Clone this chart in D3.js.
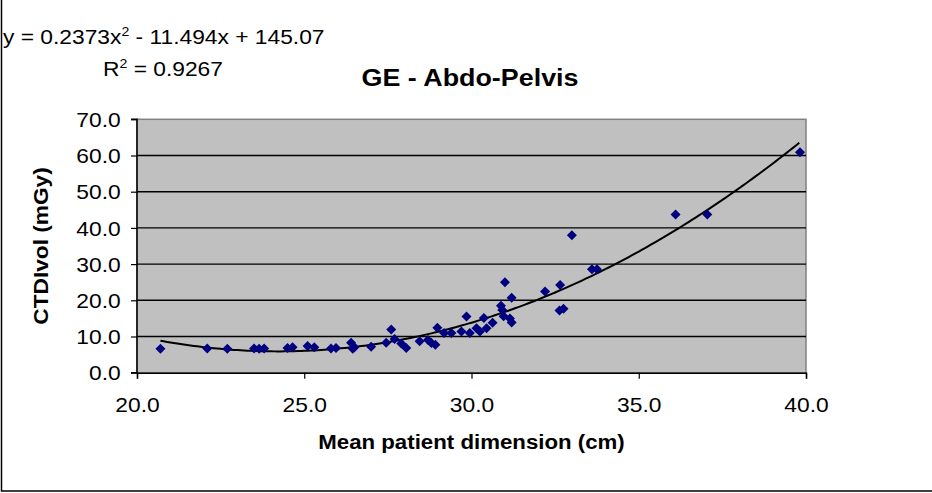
<!DOCTYPE html>
<html>
<head>
<meta charset="utf-8">
<script src="https://cdn.jsdelivr.net/npm/d3@7"></script>
<style>
  html, body { margin: 0; padding: 0; background: #fff; }
  svg { display: block; }
  text { font-family: "Liberation Sans", Arial, sans-serif; fill: #000; }
</style>
</head>
<body>
<svg id="chart" width="932" height="493"></svg>
<script>
// ---- data ----
const dimension = [20.7, 22.1, 22.7, 23.5, 23.65, 23.8, 24.5, 24.65, 25.1, 25.3,
  25.8, 25.95, 26.4, 26.45, 26.5, 27.0, 27.45, 27.6, 27.7, 27.9,
  28.05, 28.45, 28.7, 28.8, 28.92, 28.98, 29.18, 29.4, 29.7, 29.85,
  29.95, 30.15, 30.25, 30.37, 30.45, 30.63, 30.88, 30.92, 30.96, 31.0,
  31.2, 31.15, 31.2, 32.2, 32.65, 32.63, 32.75, 33.0, 33.6, 33.75,
  36.1, 37.05, 39.82];
const ctdivol = [6.6, 6.7, 6.6, 6.7, 6.6, 6.7, 6.8, 7.0, 7.4, 7.0,
  6.7, 6.8, 8.3, 6.6, 7.0, 7.2, 8.3, 11.9, 9.3, 8.1,
  6.8, 8.7, 9.0, 8.2, 7.7, 12.4, 11.0, 11.0, 11.4, 15.5,
  11.0, 12.3, 11.4, 15.1, 12.3, 13.8, 18.5, 17.3, 15.6, 25.0,
  20.7, 15.0, 13.9, 22.4, 24.2, 17.2, 17.7, 38.0, 28.6, 28.6,
  43.7, 43.7, 60.9];
const trendCoefficients = [0.2373, -11.494, 145.07]; // a, b, c of y = ax^2 + bx + c
const xTicks = [20, 25, 30, 35, 40];
const yTicks = [0, 10, 20, 30, 40, 50, 60, 70];
const titleText = "GE - Abdo-Pelvis";
const xLabelText = "Mean patient dimension (cm)";
const yLabelText = "CTDIvol (mGy)";

// ---- layout ----
const svg = d3.select("#chart");
const plot = { left: 137, right: 806, top: 119.3, bottom: 372.7 };
const x = d3.scaleLinear().domain([20, 40]).range([plot.left, plot.right]);
const y = d3.scaleLinear().domain([0, 70]).range([plot.bottom, plot.top]);

// outer chart frame
svg.append("rect").attr("x", 1.5).attr("y", -10).attr("width", 940).attr("height", 501)
  .attr("fill", "#fff").attr("stroke", "#000").attr("stroke-width", 1.5);

// plot area
svg.append("rect").attr("x", plot.left).attr("y", plot.top)
  .attr("width", plot.right - plot.left).attr("height", plot.bottom - plot.top)
  .attr("fill", "#C0C0C0").attr("stroke", "#808080").attr("stroke-width", 1.5);

// gridlines
svg.append("g").selectAll("line").data(yTicks.filter(d => d > 0 && d < 70)).join("line")
  .attr("x1", plot.left).attr("x2", plot.right)
  .attr("y1", d => y(d)).attr("y2", d => y(d))
  .attr("stroke", "#000").attr("stroke-width", 1.4);

// axes
const tickSx = 1.14;
const yAxis = d3.axisLeft(y).tickValues(yTicks).tickFormat(d3.format(".1f")).tickSize(6).tickPadding(10);
const xAxis = d3.axisBottom(x).tickValues(xTicks).tickFormat(d3.format(".1f")).tickSize(6).tickPadding(6);

const gy = svg.append("g").attr("transform", `translate(${plot.left},0)`).call(yAxis);
const gx = svg.append("g").attr("transform", `translate(0,${plot.bottom})`).call(xAxis);
[gx, gy].forEach(g => {
  g.select(".domain").attr("stroke", "#000").attr("stroke-width", 1.5);
  g.selectAll(".tick line").attr("stroke", "#000").attr("stroke-width", 1.2);
  g.selectAll(".tick text").attr("font-family", "'Liberation Sans', Arial, sans-serif")
    .attr("font-size", 20).attr("fill", "#000").attr("transform", `scale(${tickSx},1)`);
});
gx.selectAll(".tick text").attr("y", 0).attr("dy", null).attr("dominant-baseline", null)
  .attr("transform", `translate(0,39.3) scale(${tickSx},1)`);
gy.selectAll(".tick text").attr("x", -16.3 / tickSx).attr("dy", "0.36em");
gy.select(".domain").attr("d", `M-6,${plot.top}H0V${plot.bottom}H-6`);

// trendline
const [ta, tb, tc] = trendCoefficients;
const trendX = d3.range(d3.min(dimension), d3.max(dimension) + 0.001, 0.1);
const trendLine = d3.line().x(d => x(d)).y(d => y(ta * d * d + tb * d + tc));
svg.append("path").datum(trendX).attr("d", trendLine)
  .attr("fill", "none").attr("stroke", "#000").attr("stroke-width", 2);

// points (diamonds)
const pts = dimension.map((d, i) => ({ x: d, y: ctdivol[i] }));
const r = 5;
svg.append("g").selectAll("path").data(pts).join("path")
  .attr("d", d => { const cx = x(d.x), cy = y(d.y);
    return `M${cx},${cy - r}L${cx + r},${cy}L${cx},${cy + r}L${cx - r},${cy}Z`; })
  .attr("fill", "#000080");

// helper: text stretched horizontally about its anchor point
function stretched(px, py, sx) {
  return svg.append("text").attr("transform", `translate(${px},${py}) scale(${sx},1)`);
}

// equation text
const eq = stretched(3, 44, 1.085).attr("font-size", 21);
eq.append("tspan").text("y = 0.2373x");
eq.append("tspan").attr("font-size", 13).attr("dy", -8).text("2");
eq.append("tspan").attr("dy", 8).text(" - 11.494x + 145.07");

const r2 = stretched(103, 76, 1.085).attr("font-size", 21);
r2.append("tspan").text("R");
r2.append("tspan").attr("font-size", 13).attr("dy", -8).text("2");
r2.append("tspan").attr("dy", 8).text(" = 0.9267");

// title
stretched(470, 86, 1.12).attr("text-anchor", "middle")
  .attr("font-size", 24).attr("font-weight", "bold").text(titleText);

// axis labels
stretched((plot.left + plot.right) / 2, 449, 1.06).attr("text-anchor", "middle")
  .attr("font-size", 21).attr("font-weight", "bold").text(xLabelText);
svg.append("text").attr("transform", `translate(48,${(plot.top + plot.bottom) / 2}) rotate(-90) scale(1.08,1)`)
  .attr("text-anchor", "middle").attr("font-size", 21).attr("font-weight", "bold").text(yLabelText);
</script>
</body>
</html>
